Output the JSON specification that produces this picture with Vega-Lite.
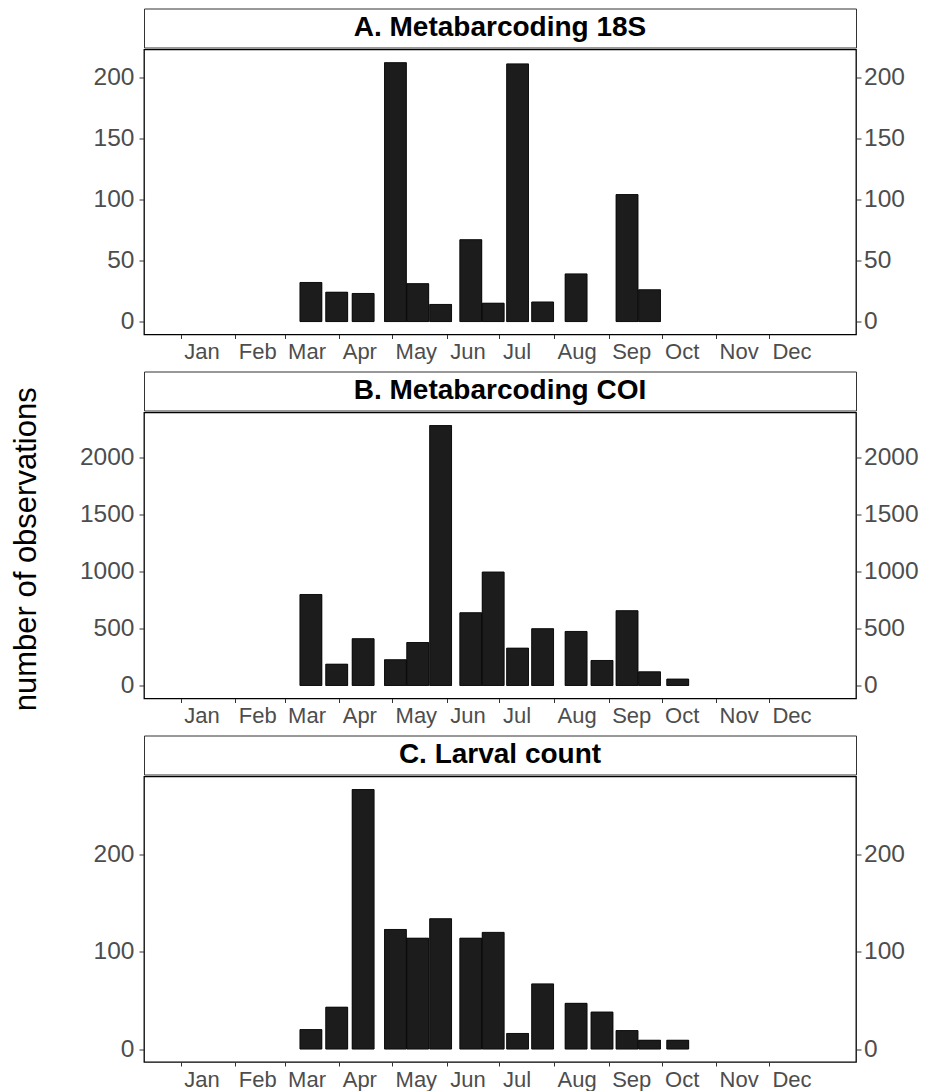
{
  "$schema": "https://vega.github.io/schema/vega-lite/v6.json",
  "padding": {"left": 10, "top": 7.5, "right": 0, "bottom": 0},
  "background": "white",
  "title": {"text": "number of observations", "orient": "left", "anchor": "middle", "fontSize": 31, "font": "Liberation Sans", "fontWeight": "normal", "color": "black", "offset": 36},
  "config": {
    "font": "Liberation Sans",
    "view": {"stroke": "black", "strokeWidth": 1.3},
    "axis": {"grid": false, "domain": false, "tickColor": "#333333", "labelColor": "#4d4d4d", "labelFont": "Liberation Sans", "title": null}
  },
  "datasets": {
    "a": [
      {"date": "2021-03-15T22:00:00Z", "count": 32},
      {"date": "2021-03-30T14:00:00Z", "count": 24},
      {"date": "2021-04-14T14:00:00Z", "count": 23},
      {"date": "2021-05-02T22:00:00Z", "count": 212},
      {"date": "2021-05-15T14:00:00Z", "count": 31},
      {"date": "2021-05-28T14:00:00Z", "count": 14},
      {"date": "2021-06-14T17:00:00Z", "count": 67},
      {"date": "2021-06-27T10:00:00Z", "count": 15},
      {"date": "2021-07-11T07:00:00Z", "count": 211},
      {"date": "2021-07-25T12:00:00Z", "count": 16},
      {"date": "2021-08-13T12:00:00Z", "count": 39},
      {"date": "2021-09-11T10:00:00Z", "count": 104},
      {"date": "2021-09-24T05:00:00Z", "count": 26}
    ],
    "b": [
      {"date": "2021-03-15T22:00:00Z", "count": 800},
      {"date": "2021-03-30T14:00:00Z", "count": 187},
      {"date": "2021-04-14T14:00:00Z", "count": 411},
      {"date": "2021-05-02T22:00:00Z", "count": 226},
      {"date": "2021-05-15T14:00:00Z", "count": 378},
      {"date": "2021-05-28T14:00:00Z", "count": 2285},
      {"date": "2021-06-14T17:00:00Z", "count": 639},
      {"date": "2021-06-27T10:00:00Z", "count": 997},
      {"date": "2021-07-11T07:00:00Z", "count": 328},
      {"date": "2021-07-25T12:00:00Z", "count": 499},
      {"date": "2021-08-13T12:00:00Z", "count": 475},
      {"date": "2021-08-28T05:00:00Z", "count": 220},
      {"date": "2021-09-11T10:00:00Z", "count": 657},
      {"date": "2021-09-24T05:00:00Z", "count": 120},
      {"date": "2021-10-10T05:00:00Z", "count": 56}
    ],
    "c": [
      {"date": "2021-03-15T22:00:00Z", "count": 20},
      {"date": "2021-03-30T14:00:00Z", "count": 43},
      {"date": "2021-04-14T14:00:00Z", "count": 267},
      {"date": "2021-05-02T22:00:00Z", "count": 123},
      {"date": "2021-05-15T14:00:00Z", "count": 114},
      {"date": "2021-05-28T14:00:00Z", "count": 134},
      {"date": "2021-06-14T17:00:00Z", "count": 114},
      {"date": "2021-06-27T10:00:00Z", "count": 120},
      {"date": "2021-07-11T07:00:00Z", "count": 16},
      {"date": "2021-07-25T12:00:00Z", "count": 67},
      {"date": "2021-08-13T12:00:00Z", "count": 47},
      {"date": "2021-08-28T05:00:00Z", "count": 38},
      {"date": "2021-09-11T10:00:00Z", "count": 19},
      {"date": "2021-09-24T05:00:00Z", "count": 9},
      {"date": "2021-10-10T05:00:00Z", "count": 9}
    ]
  },
  "spacing": 7,
  "vconcat": [
    {
      "spacing": 0,
      "vconcat": [
        {
          "width": 712, "height": 39,
          "view": {"stroke": "#333333", "strokeWidth": 1},
          "data": {"values": [{"label": "A. Metabarcoding 18S"}]},
          "mark": {"type": "text", "fontSize": 28, "fontWeight": "bold", "color": "black", "baseline": "middle", "font": "Liberation Sans"},
          "encoding": {"text": {"field": "label", "type": "nominal"}}
        },
        {
          "width": 712, "height": 285,
          "data": {"name": "a"},
          "encoding": {
            "x": {"field": "date", "type": "temporal",
              "scale": {"type": "utc", "domain": [{"year": 2020, "month": 12, "date": 14, "utc": true}, {"year": 2022, "month": 1, "date": 16, "hours": 14, "utc": true}]},
              "axis": {"values": [{"year": 2021, "month": 1, "date": 1, "utc": true}, {"year": 2021, "month": 2, "date": 1, "utc": true}, {"year": 2021, "month": 3, "date": 1, "utc": true}, {"year": 2021, "month": 4, "date": 1, "utc": true}, {"year": 2021, "month": 5, "date": 1, "utc": true}, {"year": 2021, "month": 6, "date": 1, "utc": true}, {"year": 2021, "month": 7, "date": 1, "utc": true}, {"year": 2021, "month": 8, "date": 1, "utc": true}, {"year": 2021, "month": 9, "date": 1, "utc": true}, {"year": 2021, "month": 10, "date": 1, "utc": true}, {"year": 2021, "month": 11, "date": 1, "utc": true}, {"year": 2021, "month": 12, "date": 1, "utc": true}],
                "labelExpr": "utcFormat(datum.value, '%b')", "labelAlign": "left", "labelOffset": 3, "labelFontSize": 22, "tickSize": 4, "labelPadding": 3, "labelOverlap": false, "labelFlush": false}}
          },
          "layer": [
            {"mark": {"type": "bar", "width": 21.8, "fill": "#1c1c1c", "stroke": "black", "strokeWidth": 0.6},
             "encoding": {"y": {"field": "count", "type": "quantitative", "scale": {"domain": [-10.6, 222.8], "zero": false, "nice": false},
               "axis": {"orient": "left", "values": [0, 50, 100, 150, 200], "format": "d", "labelFontSize": 24.5, "tickSize": 5, "labelPadding": 5}}}},
            {"mark": {"type": "bar", "width": 21.8, "fill": "#1c1c1c", "stroke": "black", "strokeWidth": 0.6},
             "encoding": {"y": {"field": "count", "type": "quantitative",
               "axis": {"orient": "right", "values": [0, 50, 100, 150, 200], "format": "d", "labelFontSize": 24.5, "tickSize": 5, "labelPadding": 2.5}}}}
          ],
          "resolve": {"axis": {"y": "independent"}}
        }
      ]
    },
    {
      "spacing": 0,
      "vconcat": [
        {
          "width": 712, "height": 39,
          "view": {"stroke": "#333333", "strokeWidth": 1},
          "data": {"values": [{"label": "B. Metabarcoding COI"}]},
          "mark": {"type": "text", "fontSize": 28, "fontWeight": "bold", "color": "black", "baseline": "middle", "font": "Liberation Sans"},
          "encoding": {"text": {"field": "label", "type": "nominal"}}
        },
        {
          "width": 712, "height": 286,
          "data": {"name": "b"},
          "encoding": {
            "x": {"field": "date", "type": "temporal",
              "scale": {"type": "utc", "domain": [{"year": 2020, "month": 12, "date": 14, "utc": true}, {"year": 2022, "month": 1, "date": 16, "hours": 14, "utc": true}]},
              "axis": {"values": [{"year": 2021, "month": 1, "date": 1, "utc": true}, {"year": 2021, "month": 2, "date": 1, "utc": true}, {"year": 2021, "month": 3, "date": 1, "utc": true}, {"year": 2021, "month": 4, "date": 1, "utc": true}, {"year": 2021, "month": 5, "date": 1, "utc": true}, {"year": 2021, "month": 6, "date": 1, "utc": true}, {"year": 2021, "month": 7, "date": 1, "utc": true}, {"year": 2021, "month": 8, "date": 1, "utc": true}, {"year": 2021, "month": 9, "date": 1, "utc": true}, {"year": 2021, "month": 10, "date": 1, "utc": true}, {"year": 2021, "month": 11, "date": 1, "utc": true}, {"year": 2021, "month": 12, "date": 1, "utc": true}],
                "labelExpr": "utcFormat(datum.value, '%b')", "labelAlign": "left", "labelOffset": 3, "labelFontSize": 22, "tickSize": 4, "labelPadding": 3, "labelOverlap": false, "labelFlush": false}}
          },
          "layer": [
            {"mark": {"type": "bar", "width": 21.8, "fill": "#1c1c1c", "stroke": "black", "strokeWidth": 0.6},
             "encoding": {"y": {"field": "count", "type": "quantitative", "scale": {"domain": [-114.3, 2400], "zero": false, "nice": false},
               "axis": {"orient": "left", "values": [0, 500, 1000, 1500, 2000], "format": "d", "labelFontSize": 24.5, "tickSize": 5, "labelPadding": 5}}}},
            {"mark": {"type": "bar", "width": 21.8, "fill": "#1c1c1c", "stroke": "black", "strokeWidth": 0.6},
             "encoding": {"y": {"field": "count", "type": "quantitative",
               "axis": {"orient": "right", "values": [0, 500, 1000, 1500, 2000], "format": "d", "labelFontSize": 24.5, "tickSize": 5, "labelPadding": 2.5}}}}
          ],
          "resolve": {"axis": {"y": "independent"}}
        }
      ]
    },
    {
      "spacing": 0,
      "vconcat": [
        {
          "width": 712, "height": 39,
          "view": {"stroke": "#333333", "strokeWidth": 1},
          "data": {"values": [{"label": "C. Larval count"}]},
          "mark": {"type": "text", "fontSize": 28, "fontWeight": "bold", "color": "black", "baseline": "middle", "font": "Liberation Sans"},
          "encoding": {"text": {"field": "label", "type": "nominal"}}
        },
        {
          "width": 712, "height": 285.5,
          "data": {"name": "c"},
          "encoding": {
            "x": {"field": "date", "type": "temporal",
              "scale": {"type": "utc", "domain": [{"year": 2020, "month": 12, "date": 14, "utc": true}, {"year": 2022, "month": 1, "date": 16, "hours": 14, "utc": true}]},
              "axis": {"values": [{"year": 2021, "month": 1, "date": 1, "utc": true}, {"year": 2021, "month": 2, "date": 1, "utc": true}, {"year": 2021, "month": 3, "date": 1, "utc": true}, {"year": 2021, "month": 4, "date": 1, "utc": true}, {"year": 2021, "month": 5, "date": 1, "utc": true}, {"year": 2021, "month": 6, "date": 1, "utc": true}, {"year": 2021, "month": 7, "date": 1, "utc": true}, {"year": 2021, "month": 8, "date": 1, "utc": true}, {"year": 2021, "month": 9, "date": 1, "utc": true}, {"year": 2021, "month": 10, "date": 1, "utc": true}, {"year": 2021, "month": 11, "date": 1, "utc": true}, {"year": 2021, "month": 12, "date": 1, "utc": true}],
                "labelExpr": "utcFormat(datum.value, '%b')", "labelAlign": "left", "labelOffset": 3, "labelFontSize": 22, "tickSize": 4, "labelPadding": 3, "labelOverlap": false, "labelFlush": false}}
          },
          "layer": [
            {"mark": {"type": "bar", "width": 21.8, "fill": "#1c1c1c", "stroke": "black", "strokeWidth": 0.6},
             "encoding": {"y": {"field": "count", "type": "quantitative", "scale": {"domain": [-13.35, 280.4], "zero": false, "nice": false},
               "axis": {"orient": "left", "values": [0, 100, 200], "format": "d", "labelFontSize": 24.5, "tickSize": 5, "labelPadding": 5}}}},
            {"mark": {"type": "bar", "width": 21.8, "fill": "#1c1c1c", "stroke": "black", "strokeWidth": 0.6},
             "encoding": {"y": {"field": "count", "type": "quantitative",
               "axis": {"orient": "right", "values": [0, 100, 200], "format": "d", "labelFontSize": 24.5, "tickSize": 5, "labelPadding": 2.5}}}}
          ],
          "resolve": {"axis": {"y": "independent"}}
        }
      ]
    }
  ]
}
